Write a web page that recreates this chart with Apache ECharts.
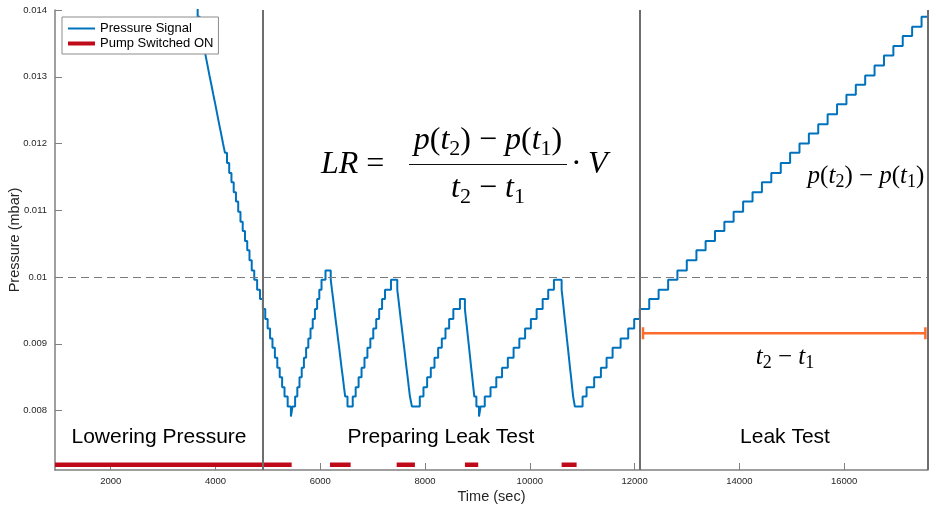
<!DOCTYPE html>
<html>
<head>
<meta charset="utf-8">
<script src="https://cdn.jsdelivr.net/npm/echarts@6/dist/echarts.min.js"></script>
<style>
html, body { margin: 0; padding: 0; background: #fff; }
#chart { width: 934px; height: 508px; }
</style>
</head>
<body>
<div id="chart"></div>
<script>
// pressure signal: time (sec) where the reading jumps, and the new reading (mbar)
var lowerTime = [3580, 3620, 3660, 3700, 3737, 3774, 3811, 3848, 3885, 3922, 3959, 3996, 4033, 4070, 4107, 4144,
  4181, 4220, 4262, 4305, 4348, 4391, 4434, 4477, 4520, 4563, 4606, 4649, 4692, 4740, 4795, 4850, 4905];
var lowerP = [0.01419, 0.01405, 0.01390, 0.01375, 0.01361, 0.01346, 0.01332, 0.01317, 0.01302, 0.01288, 0.01273,
  0.01259, 0.01244, 0.01229, 0.01215, 0.01200, 0.01186, 0.01171, 0.01156, 0.01142, 0.01127, 0.01113, 0.01098,
  0.01083, 0.01069, 0.01054, 0.01040, 0.01025, 0.01010, 0.00996, 0.00981, 0.00967, 0.00952];

var prepTime = [4950, 4996, 5042, 5088, 5134, 5180, 5226, 5272, 5318, 5378, 5440, 5470,
  5520, 5562, 5604, 5646, 5688, 5730, 5772, 5814, 5856, 5898, 5940, 5982, 6024, 6100,
  6200, 6223, 6246, 6269, 6292, 6315, 6338, 6361, 6384, 6407, 6430, 6453, 6476, 6520,
  6620, 6676, 6732, 6788, 6844, 6900, 6956, 7012, 7068, 7124, 7180, 7236, 7350,
  7470, 7492, 7514, 7536, 7558, 7580, 7602, 7624, 7646, 7668, 7690, 7712, 7750,
  7900, 7970, 8040, 8110, 8180, 8250, 8320, 8390, 8460, 8540, 8666,
  8761, 8781, 8801, 8821, 8841, 8861, 8881, 8901, 8921, 8941, 8980, 9030, 9060,
  9140, 9250, 9360, 9470, 9580, 9690, 9800, 9910, 10020, 10130, 10245, 10351, 10460,
  10607, 10627, 10647, 10667, 10687, 10707, 10727, 10747, 10767, 10787, 10807, 10827, 10860,
  11007, 11083, 11228, 11357, 11465, 11580, 11733, 11878, 11992];
var prepP = [0.00937, 0.00923, 0.00908, 0.00894, 0.00879, 0.00864, 0.00850, 0.00835, 0.00821, 0.00806, 0.00791, 0.00806,
  0.00821, 0.00835, 0.00850, 0.00864, 0.00879, 0.00894, 0.00908, 0.00923, 0.00937, 0.00952, 0.00967, 0.00981, 0.00996, 0.01010,
  0.00996, 0.00981, 0.00967, 0.00952, 0.00937, 0.00923, 0.00908, 0.00894, 0.00879, 0.00864, 0.00850, 0.00835, 0.00821, 0.00806,
  0.00821, 0.00835, 0.00850, 0.00864, 0.00879, 0.00894, 0.00908, 0.00923, 0.00937, 0.00952, 0.00967, 0.00981, 0.00996,
  0.00981, 0.00967, 0.00952, 0.00937, 0.00923, 0.00908, 0.00894, 0.00879, 0.00864, 0.00850, 0.00835, 0.00821, 0.00806,
  0.00821, 0.00835, 0.00850, 0.00864, 0.00879, 0.00894, 0.00908, 0.00923, 0.00937, 0.00952, 0.00967,
  0.00952, 0.00937, 0.00923, 0.00908, 0.00894, 0.00879, 0.00864, 0.00850, 0.00835, 0.00821, 0.00806, 0.00791, 0.00806,
  0.00821, 0.00835, 0.00850, 0.00864, 0.00879, 0.00894, 0.00908, 0.00923, 0.00937, 0.00952, 0.00967, 0.00981, 0.00996,
  0.00981, 0.00967, 0.00952, 0.00937, 0.00923, 0.00908, 0.00894, 0.00879, 0.00864, 0.00850, 0.00835, 0.00821, 0.00806,
  0.00821, 0.00835, 0.00850, 0.00864, 0.00879, 0.00894, 0.00908, 0.00923, 0.00937];

var leakTime = [12100, 12279, 12458, 12640, 12817, 12996, 13180, 13355, 13534, 13713, 13890, 14071, 14251, 14430,
  14609, 14790, 14968, 15147, 15326, 15505, 15684, 15864, 16043, 16222, 16401, 16580, 16760, 16939, 17118, 17297,
  17477, 17600];
var leakP = [0.00952, 0.00967, 0.00981, 0.00996, 0.01010, 0.01025, 0.01040, 0.01054, 0.01069, 0.01083, 0.01098,
  0.01113, 0.01127, 0.01142, 0.01156, 0.01171, 0.01186, 0.01200, 0.01215, 0.01229, 0.01244, 0.01259, 0.01273,
  0.01288, 0.01302, 0.01317, 0.01332, 0.01346, 0.01361, 0.01375, 0.01390, 0.01390];

// pump on intervals (sec)
var pumpStart = [937, 6185, 7458, 8761, 10607];
var pumpEnd = [5454, 6580, 7807, 9015, 10893];
var pumpLevel = 0.00719;

var phaseBounds = [4906, 12100, 17600];
var guideLevels = [0.008, 0.01];
var bracketT = [12160, 17550];
var bracketP = 0.00916;
var bracketCap = 0.00009;

var xTicks = [2000, 4000, 6000, 8000, 10000, 12000, 14000, 16000];
var yTicks = [0.008, 0.009, 0.01, 0.011, 0.012, 0.013, 0.014];

var signal = [];
[[lowerTime, lowerP], [prepTime, prepP], [leakTime, leakP]].forEach(function (part) {
  part[0].forEach(function (t, i) { signal.push([t, part[1][i]]); });
});

var pump = [];
pumpStart.forEach(function (s, i) {
  pump.push([s, pumpLevel], [pumpEnd[i], pumpLevel], [pumpEnd[i], '-']);
});

var bracket = [
  [bracketT[0], bracketP - bracketCap], [bracketT[0], bracketP + bracketCap], [bracketT[0], '-'],
  [bracketT[0], bracketP], [bracketT[1], bracketP], [bracketT[1], '-'],
  [bracketT[1], bracketP - bracketCap], [bracketT[1], bracketP + bracketCap]
];

var marks = phaseBounds.map(function (v) {
  return { xAxis: v, lineStyle: { color: '#6e6e6e', width: 2, type: 'solid' } };
}).concat(guideLevels.map(function (v) {
  return { yAxis: v, lineStyle: { color: '#7a7a7a', width: 1, type: [8, 5] } };
}));

var serif = 'Liberation Serif';
function mathRich(size) {
  var sub = Math.round(size * 0.7);
  return {
    i: { fontFamily: serif, fontStyle: 'italic', fontSize: size, lineHeight: size * 1.2, color: '#111' },
    r: { fontFamily: serif, fontSize: size, lineHeight: size * 1.2, color: '#111' },
    s: { fontFamily: serif, fontSize: sub, lineHeight: sub, verticalAlign: 'bottom', color: '#111' }
  };
}
function mathText(str, x, y, size, align) {
  return {
    type: 'text', x: x, y: y, silent: true,
    style: { text: str, rich: mathRich(size), align: align || 'center', verticalAlign: 'middle',
      textAlign: align || 'center', textVerticalAlign: 'middle' }
  };
}
function phaseText(str, x) {
  return {
    type: 'text', x: x, y: 437, silent: true,
    style: { text: str, fontFamily: 'Liberation Sans', fontSize: 21, fill: '#000',
      align: 'center', verticalAlign: 'middle', textAlign: 'center', textVerticalAlign: 'middle' }
  };
}

var diffP = '{i|p}{r|(}{i|t}{s|2}{r|) − }{i|p}{r|(}{i|t}{s|1}{r|)}';
var diffT = '{i|t}{s|2}{r| − }{i|t}{s|1}';

var chart = echarts.init(document.getElementById('chart'));
chart.setOption({
  animation: false,
  backgroundColor: '#fff',
  textStyle: { fontFamily: 'Liberation Sans' },
  grid: { left: 55, right: 6, top: 10, bottom: 38, containLabel: false, outerBoundsMode: 'none' },
  legend: {
    data: [
      { name: 'Pressure Signal', lineStyle: { width: 2 } },
      { name: 'Pump Switched ON', lineStyle: { width: 4 } }
    ],
    orient: 'vertical', left: 62, top: 17,
    itemWidth: 27, itemHeight: 12, itemGap: 2,
    padding: [5, 5, 4, 4],
    backgroundColor: '#fff', borderColor: '#8c8c8c', borderWidth: 1,
    itemStyle: { opacity: 0 },
    textStyle: { fontSize: 13, color: '#000' }
  },
  xAxis: {
    type: 'value', min: 937, max: 17600,
    name: 'Time (sec)', nameLocation: 'middle', nameGap: 19, nameMoveOverlap: false,
    nameTextStyle: { fontSize: 14.5, color: '#262626' },
    axisLine: { onZero: false, lineStyle: { color: '#808080', width: 1.5 } },
    axisTick: { inside: true, length: 7, customValues: xTicks, lineStyle: { color: '#808080' } },
    axisLabel: { customValues: xTicks, fontSize: 9.5, color: '#262626', margin: 6,
      formatter: function (v) { return String(v); } },
    splitLine: { show: false }
  },
  yAxis: {
    type: 'value', min: 0.00711, max: 0.014,
    name: 'Pressure (mbar)', nameLocation: 'middle', nameGap: 33, nameMoveOverlap: false,
    nameTextStyle: { fontSize: 14.5, color: '#262626' },
    axisLine: { show: true, onZero: false, lineStyle: { color: '#808080', width: 1.5 } },
    axisTick: { show: true, inside: true, length: 7, customValues: yTicks, lineStyle: { color: '#808080' } },
    axisLabel: { customValues: yTicks, fontSize: 9.5, color: '#262626', margin: 8,
      formatter: function (v) { return String(v); } },
    splitLine: { show: false }
  },
  series: [{
    name: 'Pressure Signal', type: 'line', step: 'end', data: signal,
    symbol: 'none', z: 3,
    lineStyle: { color: '#0072BD', width: 2 },
    itemStyle: { color: '#0072BD' },
    markLine: { silent: true, symbol: 'none', label: { show: false }, animation: false, data: marks }
  }, {
    name: 'Pump Switched ON', type: 'line', data: pump, symbol: 'none',
    lineStyle: { color: '#BE0A19', width: 4.5 },
    itemStyle: { color: '#BE0A19' }
  }, {
    name: 'bracket', type: 'line', data: bracket, symbol: 'none', clip: false,
    lineStyle: { color: '#FF6B2B', width: 2.5 },
    itemStyle: { color: '#FF6B2B' }
  }],
  graphic: [
    phaseText('Lowering Pressure', 159),
    phaseText('Preparing Leak Test', 441),
    phaseText('Leak Test', 785),
    mathText('{i|LR}{r| =}', 321, 165, 32, 'left'),
    mathText(diffP, 488, 141, 32),
    { type: 'line', silent: true, shape: { x1: 409, y1: 164.5, x2: 567, y2: 164.5 },
      style: { stroke: '#111', lineWidth: 1.2 } },
    mathText(diffT, 488, 189, 32),
    mathText('{r|·\u2009}{i|V}', 571, 165, 32, 'left'),
    mathText(diffP, 866, 176, 25),
    mathText(diffT, 785, 357, 25)
  ]
});
</script>
</body>
</html>
